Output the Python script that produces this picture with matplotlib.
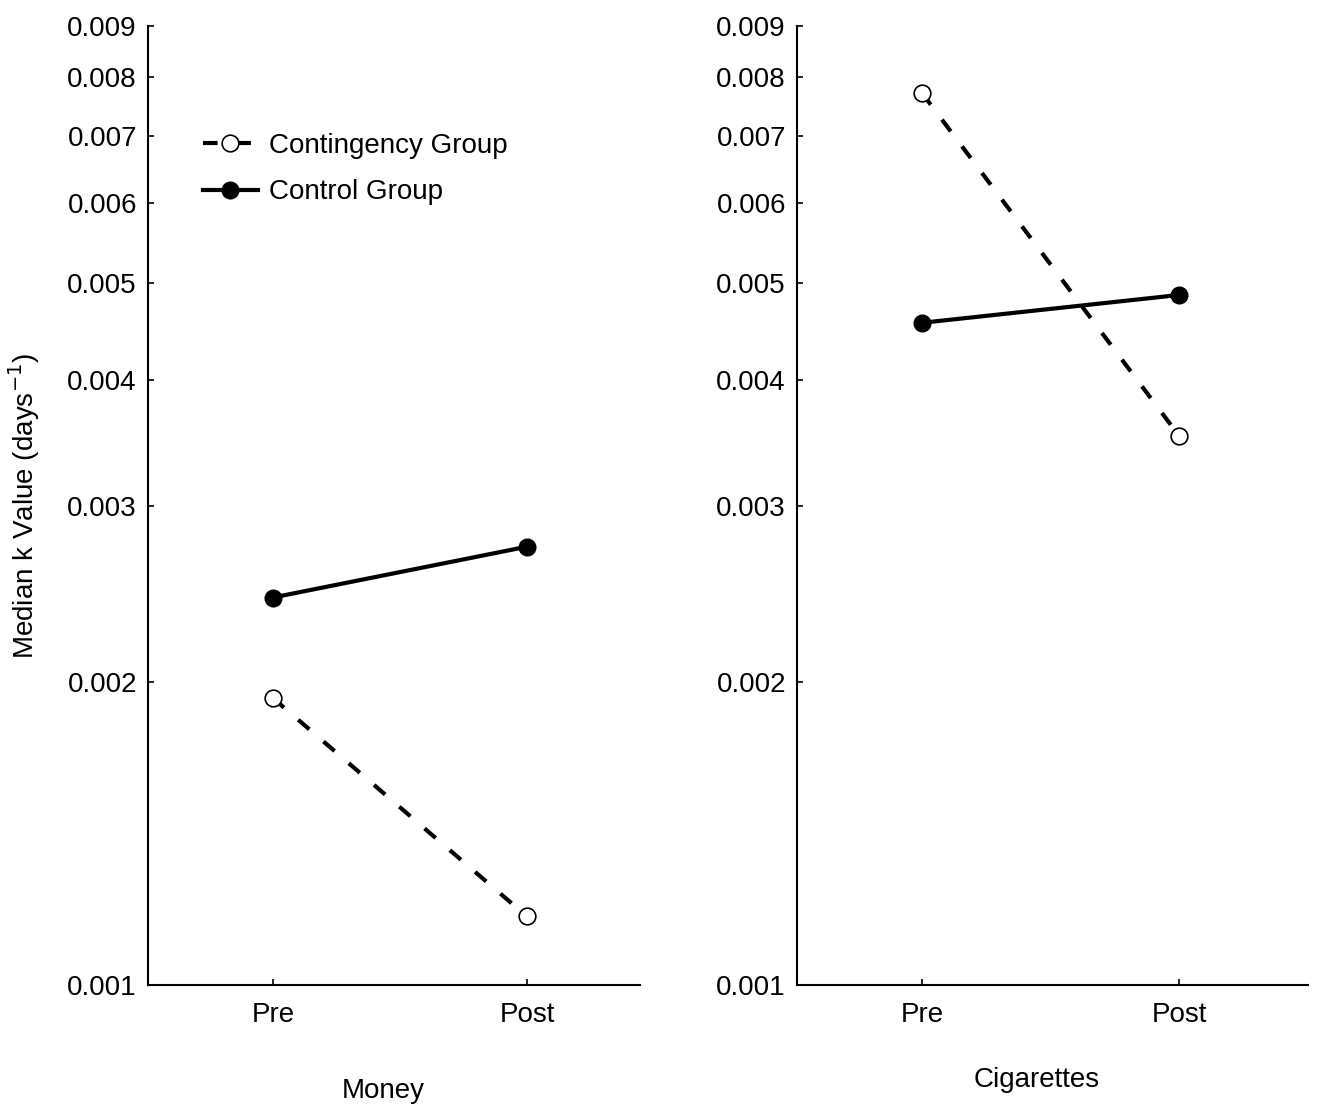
import matplotlib.pyplot as plt
from matplotlib.ticker import FixedLocator, NullLocator

plt.rcParams['font.family'] = ['Liberation Sans Narrow', 'Liberation Sans', 'DejaVu Sans']

phases = ['Pre', 'Post']
yticks = [0.001, 0.002, 0.003, 0.004, 0.005, 0.006, 0.007, 0.008, 0.009]
ytick_labels = ['0.001', '0.002', '0.003', '0.004', '0.005', '0.006', '0.007', '0.008', '0.009']

money_contingency = [0.00193, 0.00117]
money_control = [0.00243, 0.00273]
cig_contingency = [0.00772, 0.00352]
cig_control = [0.00456, 0.00486]

fig = plt.figure(figsize=(13.19, 11.09), dpi=100)
ax1 = fig.add_axes([0.1122, 0.1118, 0.373, 0.8647])
ax2 = fig.add_axes([0.6043, 0.1118, 0.3874, 0.8647])


def style(ax, xlim, xlabel, xlabelpad, xlabel_x):
    ax.set_yscale('log')
    ax.set_ylim(0.001, 0.009)
    ax.yaxis.set_major_locator(FixedLocator(yticks))
    ax.yaxis.set_minor_locator(NullLocator())
    ax.set_yticklabels(ytick_labels)
    ax.set_xlim(*xlim)
    ax.set_xticks([0, 1])
    ax.set_xticklabels(phases)
    ax.set_xlabel(xlabel, fontsize=20, labelpad=xlabelpad, x=xlabel_x)
    ax.spines['top'].set_visible(False)
    ax.spines['right'].set_visible(False)
    ax.spines['left'].set_linewidth(1.5)
    ax.spines['bottom'].set_linewidth(1.5)
    ax.tick_params(direction='in', length=4, width=1.2, labelsize=20)
    ax.tick_params(axis='x', pad=12)
    ax.tick_params(axis='y', pad=8)


for ax, cont, ctrl in [(ax1, money_contingency, money_control), (ax2, cig_contingency, cig_control)]:
    ax.plot([0, 1], cont, color='black', lw=3, dashes=(3.5, 4.5), marker='o',
            markersize=12, markerfacecolor='white', markeredgecolor='black',
            markeredgewidth=1.2, label='Contingency Group')
    ax.plot([0, 1], ctrl, color='black', lw=3, marker='o', markersize=12,
            markerfacecolor='black', markeredgecolor='black', label='Control Group')

style(ax1, (-0.492, 1.445), 'Money', 36, 0.478)
style(ax2, (-0.486, 1.502), 'Cigarettes', 28, 0.468)

ax1.set_ylabel('Median k Value (days$^{-1}$)', fontsize=20, labelpad=18)

leg = ax1.legend(loc='upper left', bbox_to_anchor=(0.06, 0.915), frameon=False,
                 fontsize=20, handlelength=2.0, handletextpad=0.4, labelspacing=0.75)

fig.savefig('out.png', dpi=100)
